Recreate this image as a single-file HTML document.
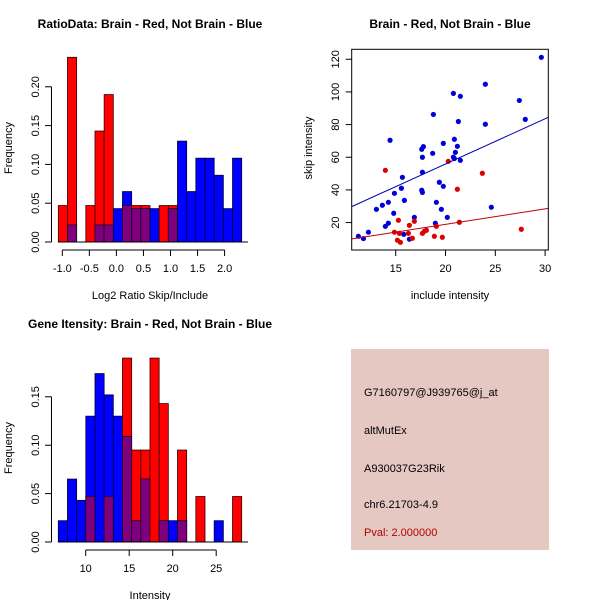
<!DOCTYPE html>
<html><head><meta charset="utf-8"><style>
html,body{margin:0;padding:0;background:#fff;}
svg{display:block;font-family:"Liberation Sans",Arial,sans-serif;}
</style></head><body>
<svg id="chart" width="600" height="600" viewBox="0 0 600 600" xmlns="http://www.w3.org/2000/svg">
<rect x="0" y="0" width="600" height="600" fill="#fff"/>
<g id="p1"></g>
<g id="p2"></g>
<g id="p3"></g>
<g id="p4">
<rect x="351" y="349" width="198" height="201" fill="#e6c8c2"/>
<text x="364" y="396" font-size="11" fill="#000">G7160797@J939765@j_at</text>
<text x="364" y="434" font-size="11" fill="#000">altMutEx</text>
<text x="364" y="472" font-size="11" fill="#000">A930037G23Rik</text>
<text x="364" y="508" font-size="11" fill="#000">chr6.21703-4.9</text>
<text x="364" y="536" font-size="11" fill="#b00000">Pval: 2.000000</text>
</g>
</svg>
<script>
// ---- Panel 1: ratio histogram ----
const ratioRed = [0.047,0.238,0,0.047,0.143,0.19,0,0.047,0.047,0.047,0,0.047,0.047,0,0,0,0,0,0,0];
const ratioBlue = [0,0.022,0,0,0.022,0.022,0.043,0.065,0.043,0.043,0.043,0,0.043,0.13,0.065,0.108,0.108,0.086,0.043,0.108];
const ratioBinStart = -1.074;
const ratioBinWidth = 0.1695;
const ratioXTicks = [-1.0,-0.5,0.0,0.5,1.0,1.5,2.0];
const ratioXTickLabels = ["-1.0","-0.5","0.0","0.5","1.0","1.5","2.0"];
const ratioYTicks = [0,0.05,0.10,0.15,0.20];
const ratioYTickLabels = ["0.00","0.05","0.10","0.15","0.20"];

// ---- Panel 2: scatter ----
const blueX = [11.25,11.76,12.26,13.06,13.66,14.26,14.43,13.96,14.26,14.8,14.87,15.57,15.67,15.87,15.8,16.37,16.87,17.61,17.78,17.68,17.68,17.61,17.68,18.71,18.78,18.98,19.08,19.38,19.58,19.78,19.78,20.18,20.79,20.89,20.79,20.89,20.99,21.19,21.29,21.49,21.49,24.0,24.0,24.6,27.41,28.01,29.62];
const blueY = [11.6,10.2,14.1,28.1,30.6,32.4,70.4,17.7,19.6,25.7,37.9,41.0,47.7,33.6,12.8,9.8,23.2,64.9,66.5,60.0,50.8,39.8,38.5,62.4,86.2,19.6,32.4,44.7,28.1,68.5,42.2,23.2,99.1,71.0,60.0,59.2,63.0,66.7,81.9,97.3,58.1,104.7,80.2,29.4,94.8,83.2,121.2];
const redX = [13.96,14.87,15.17,15.27,15.37,15.47,16.27,16.37,16.67,16.87,17.68,17.88,18.08,18.88,19.08,19.68,20.28,21.19,21.39,23.7,27.61];
const redY = [52.0,14.1,9.2,21.4,13.4,7.9,13.4,18.3,10.4,20.8,13.4,14.7,15.3,11.6,17.7,11.0,57.5,40.4,20.2,50.2,15.9];
const blueFit = [0.46, 2.77];
const redFit = [-0.04, 0.948];
const scatXTicks = [15,20,25,30];
const scatYTicks = [20,40,60,80,100,120];

// ---- Panel 3: gene intensity histogram ----
const geneRed = [0,0,0,0.047,0,0.047,0,0.19,0.095,0.095,0.19,0.143,0,0.095,0,0.047,0,0,0,0.047];
const geneBlue = [0.022,0.065,0.043,0.13,0.174,0.152,0.13,0.109,0.022,0.065,0,0.022,0.022,0.022,0,0,0,0.022,0,0];
const geneBinStart = 6.85;
const geneBinWidth = 1.054;
const geneXTicks = [10,15,20,25];
const geneYTicks = [0,0.05,0.10,0.15];
const geneYTickLabels = ["0.00","0.05","0.10","0.15"];

const NS="http://www.w3.org/2000/svg";
function mk(parent,tag,attrs,text){const e=document.createElementNS(NS,tag);for(const k in attrs)e.setAttribute(k,attrs[k]);if(text!==undefined)e.textContent=text;parent.appendChild(e);return e;}

function histogram(g,red,blue,binStart,binW,xs,ys,xTicks,xLabels,yTicks,yLabels,title,xlab,top){
  for(let i=0;i<red.length;i++){
    const x0=xs(binStart+i*binW), x1=xs(binStart+(i+1)*binW);
    const r=red[i], b=blue[i];
    if(r>0){const e=mk(g,'rect',{x:x0,y:ys(r),width:x1-x0,height:ys(0)-ys(r),fill:'#ff0000',stroke:'#300','stroke-width':0.8});
      
      }
    if(b>0){const e=mk(g,'rect',{x:x0,y:ys(b),width:x1-x0,height:ys(0)-ys(b),fill:'#0000ff',stroke:'#003','stroke-width':0.8});
      
      }
    const m=Math.min(r,b);
    if(m>0){const e=mk(g,'rect',{x:x0,y:ys(m),width:x1-x0,height:ys(0)-ys(m),fill:'#7f007f',stroke:'#202','stroke-width':0.8});
      
      }
  }
  mk(g,'line',{x1:58,y1:ys(0),x2:248,y2:ys(0),stroke:'#000'});
  const ya=mk(g,'g',{});
  
  
  mk(ya,'line',{x1:51.5,y1:ys(yTicks[0]),x2:51.5,y2:ys(yTicks[yTicks.length-1]),stroke:'#000'});
  yTicks.forEach((t,i)=>{const y=ys(t);mk(ya,'line',{x1:45,y1:y,x2:51.5,y2:y,stroke:'#000'});
    const tx=mk(ya,'text',{x:39,y:y,'font-size':11,'text-anchor':'middle',transform:`rotate(-90 39 ${y})`},yLabels[i]);
    
    });
  const xa=mk(g,'g',{});
  
  
  const ay=top+250;
  mk(xa,'line',{x1:xs(xTicks[0]),y1:ay,x2:xs(xTicks[xTicks.length-1]),y2:ay,stroke:'#000'});
  xTicks.forEach((t,i)=>{const x=xs(t);mk(xa,'line',{x1:x,y1:ay,x2:x,y2:ay+6,stroke:'#000'});
    const tx=mk(xa,'text',{x:x,y:ay+22,'font-size':11,'text-anchor':'middle'},xLabels[i]);
    
    });
  const ti=mk(g,'text',{x:150,y:top+28,'font-size':12,'font-weight':'bold','text-anchor':'middle'},title);
  
  
  const xl=mk(g,'text',{x:150,y:top+299,'font-size':11,'text-anchor':'middle'},xlab);
  
  
  const yl=mk(g,'text',{x:12,y:top+148,'font-size':11,'text-anchor':'middle',transform:`rotate(-90 12 ${top+148})`},'Frequency');
  
  
}

(function(){
  const g=document.getElementById('p1');
  const xs=v=>62.3+(v+1)*54.1;
  const ys=v=>242-v*776;
  histogram(g,ratioRed,ratioBlue,ratioBinStart,ratioBinWidth,xs,ys,ratioXTicks,ratioXTickLabels,ratioYTicks,ratioYTickLabels,'RatioData: Brain - Red, Not Brain - Blue','Log2 Ratio Skip/Include',0);
})();
(function(){
  const g=document.getElementById('p3');
  const xs=v=>85.7+(v-10)*8.7;
  const ys=v=>542-v*968;
  histogram(g,geneRed,geneBlue,geneBinStart,geneBinWidth,xs,ys,geneXTicks,geneXTicks.map(String),geneYTicks,geneYTickLabels,'Gene Itensity: Brain - Red, Not Brain - Blue','Intensity',300);
})();
(function(){
  const g=document.getElementById('p2');
  const X0=10.58,X1=30.32,Y0=3.2,Y1=126.1,L=351.7,R=548.3,T=49.3,B=250;
  const xs=v=>L+(v-X0)/(X1-X0)*(R-L);
  const ys=v=>B-(v-Y0)/(Y1-Y0)*(B-T);
  const cp=mk(g,'clipPath',{id:'sc'});mk(cp,'rect',{x:L,y:T,width:R-L,height:B-T});
  blueX.forEach((x,i)=>{const c=mk(g,'circle',{cx:xs(x),cy:ys(blueY[i]),r:2.6,fill:'#0000dd'});
    
    });
  redX.forEach((x,i)=>{const c=mk(g,'circle',{cx:xs(x),cy:ys(redY[i]),r:2.6,fill:'#dd0000'});
    
    });
  const bl=blueFit, rl=redFit;
  const l1=mk(g,'line',{x1:L,y1:ys(bl[0]+bl[1]*X0),x2:R,y2:ys(bl[0]+bl[1]*X1),stroke:'#0000b0','clip-path':'url(#sc)'});
  
  
  const l2=mk(g,'line',{x1:L,y1:ys(rl[0]+rl[1]*X0),x2:R,y2:ys(rl[0]+rl[1]*X1),stroke:'#c00000','clip-path':'url(#sc)'});
  
  
  const box=mk(g,'rect',{x:L,y:T,width:R-L,height:B-T,fill:'none',stroke:'#000'});
  
  
  scatXTicks.forEach(t=>{const x=xs(t);mk(g,'line',{x1:x,y1:B,x2:x,y2:B+6,stroke:'#000'});
    const tx=mk(g,'text',{x:x,y:B+22,'font-size':11,'text-anchor':'middle'},String(t));
    
    });
  scatYTicks.forEach(t=>{const y=ys(t);mk(g,'line',{x1:L-6,y1:y,x2:L,y2:y,stroke:'#000'});
    const tx=mk(g,'text',{x:339,y:y,'font-size':11,'text-anchor':'middle',transform:`rotate(-90 339 ${y})`},String(t));
    
    });
  const ti=mk(g,'text',{x:450,y:28,'font-size':12,'font-weight':'bold','text-anchor':'middle'},'Brain - Red, Not Brain - Blue');
  
  
  const xl=mk(g,'text',{x:450,y:299,'font-size':11,'text-anchor':'middle'},'include intensity');
  
  
  const yl=mk(g,'text',{x:312,y:148,'font-size':11,'text-anchor':'middle',transform:'rotate(-90 312 148)'},'skip intensity');
  
  
})();
</script>
</body></html>
